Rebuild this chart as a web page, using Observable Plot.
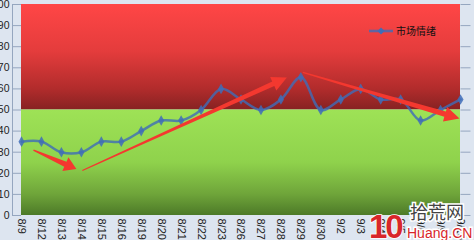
<!DOCTYPE html>
<html><head><meta charset="utf-8">
<script src="https://cdn.jsdelivr.net/npm/d3@7"></script>
<script src="https://cdn.jsdelivr.net/npm/@observablehq/plot@0.6"></script>
<style>
html,body{margin:0;padding:0;background:#dde5f0;}
#wrap{position:relative;width:474px;height:240px;overflow:hidden;background:#dde5f0;font-family:"Liberation Sans",Arial,sans-serif;}
#legend{position:absolute;left:368px;top:23px;display:flex;align-items:center;font:10px "Noto Sans CJK SC",sans-serif;color:#111;}
#wm{position:absolute;left:366px;top:198px;width:108px;height:42px;pointer-events:none;}
</style></head><body><div id="wrap"></div>
<script>
// ---- data ----
const dates = ["8/9","8/12","8/13","8/14","8/15","8/16","8/19","8/20","8/21","8/22","8/23","8/26","8/27","8/28","8/29","8/30","9/2","9/3","9/4","9/5","9/6","9/9","9/10"];
const sentiment = [35,35,30,30,35,35,40,45,45,50,60,55,50,55,65.5,50,55,60,55,55,45,50,55];
const yTicks = [0,10,20,30,40,50,60,70,80,90,100];
const zoneSplit = 50;
const arrowsX1 = [0.6, 3.05, 14.1];
const arrowsY1 = [31, 21.3, 67.8];
const arrowsX2 = [2.75, 13.3, 21.95];
const arrowsY2 = [22, 65.4, 46];
const seriesName = "市场情绪";

const rows = dates.map((d, i) => ({i, v: sentiment[i]}));
const xMax = dates.length - 1;

const base = {
  width: 474, height: 240,
  marginLeft: 21, marginRight: 14, marginTop: 4, marginBottom: 25,
  style: {background: "transparent", fontFamily: "Liberation Sans, Arial, sans-serif", fontSize: "11px", color: "#222", overflow: "visible"}
};
const xScale = {type: "linear", domain: [0, xMax]};
const yScale = {domain: [yTicks[0], yTicks[yTicks.length - 1]]};

// probe pass to get the library's scales
const probe = Plot.plot({...base, x: {...xScale, axis: null}, y: {...yScale, axis: null}, marks: [Plot.ruleY([zoneSplit])]});
const sx = probe.scale("x"), sy = probe.scale("y");

// arrow shapes (pixel styling)
const arrowStyle = [{w0: 1.5, w1: 5.5, hl: 12, hw: 7.5}, {w0: 1.2, w1: 5, hl: 15, hw: 7.5}, {w0: 1.2, w1: 5.5, hl: 15, hw: 7.5}];
function arrowPoly(k) {
  const s = arrowStyle[k];
  const T = [sx.apply(arrowsX1[k]), sy.apply(arrowsY1[k])];
  const P = [sx.apply(arrowsX2[k]), sy.apply(arrowsY2[k])];
  const dx = P[0] - T[0], dy = P[1] - T[1], L = Math.hypot(dx, dy);
  const u = [dx / L, dy / L], n = [-u[1], u[0]];
  const B = [P[0] - u[0] * s.hl, P[1] - u[1] * s.hl];
  const off = (p, m) => [p[0] + n[0] * m, p[1] + n[1] * m];
  const pts = [off(T, s.w0 / 2), off(B, s.w1 / 2), off(B, s.hw), P, off(B, -s.hw), off(B, -s.w1 / 2), off(T, -s.w0 / 2)];
  return pts.map(p => ({k, x: sx.invert(p[0]), y: sy.invert(p[1])}));
}
const arrowPts = arrowsX1.flatMap((_, k) => arrowPoly(k));

const ns = "http://www.w3.org/2000/svg";
function defs() {
  const g = document.createElementNS(ns, "defs");
  g.innerHTML = `
  <linearGradient id="gRed" x1="0" y1="0" x2="0" y2="1">
    <stop offset="0" stop-color="#ff4646"/>
    <stop offset="0.45" stop-color="#e43c3c"/>
    <stop offset="0.8" stop-color="#b22c2c"/>
    <stop offset="1" stop-color="#872222"/>
  </linearGradient>
  <linearGradient id="gGreen" x1="0" y1="0" x2="0" y2="1">
    <stop offset="0" stop-color="#9ee256"/>
    <stop offset="0.5" stop-color="#8fd24c"/>
    <stop offset="0.8" stop-color="#6fa53a"/>
    <stop offset="1" stop-color="#4d7a28"/>
  </linearGradient>`;
  return g;
}

const lineColor = "#3f6db8";
const chart = Plot.plot({
  ...base,
  x: {...xScale, ticks: d3.range(dates.length), tickFormat: i => dates[i], tickRotate: 90, tickSize: 0, tickPadding: 3, label: null},
  y: {...yScale, axis: null},
  marks: [
    defs,
    Plot.rect([zoneSplit], {x1: () => 0, x2: () => xMax, y1: d => d, y2: () => yScale.domain[1], fill: "url(#gRed)"}),
    Plot.rect([zoneSplit], {x1: () => 0, x2: () => xMax, y1: () => yScale.domain[0], y2: d => d, fill: "url(#gGreen)"}),
    Plot.axisY(yTicks, {tickSize: 9, tickPadding: 3, stroke: "#95a6bf", fill: "#222", fontSize: 10.5, label: null}),
    Plot.ruleX([0], {dx: -9, stroke: "#95a6bf"}),
    Plot.link(yTicks, {x1: () => xMax, x2: () => xMax + 0.5, y1: d => d, y2: d => d, stroke: "#95a6bf"}),
    Plot.line(rows, {x: "i", y: "v", curve: "catmull-rom", stroke: lineColor, strokeWidth: 2.5, strokeOpacity: 0.8}),
    Plot.dot(rows, {x: "i", y: "v", symbol: "diamond", r: 3.2, fill: lineColor, fillOpacity: 0.85, stroke: "none"}),
    Plot.line(arrowPts, {x: "x", y: "y", z: "k", fill: "#f4382f", stroke: "none", curve: "linear-closed"})
  ]
});

const wrap = document.getElementById("wrap");
wrap.appendChild(chart);

// legend inside plot
const lg = document.createElement("div");
lg.id = "legend";
lg.innerHTML = `<svg width="26" height="10" style="margin-right:2px"><line x1="1" y1="5" x2="25" y2="5" stroke="${lineColor}" stroke-width="2.6" stroke-opacity="0.8"/><path d="M13,1.5L16.5,5L13,8.5L9.5,5Z" fill="${lineColor}"/></svg><span>${seriesName}</span>`;
wrap.appendChild(lg);

// watermark
const wm = document.createElement("div");
wm.id = "wm";
wm.innerHTML = `<svg width="108" height="42">
<text x="3" y="40" font-family="Liberation Sans, Arial" font-weight="bold" font-size="33" fill="#d8262a" stroke="#fff" stroke-width="1.5" paint-order="stroke" letter-spacing="-2">10</text>
<text x="44" y="21" font-family="Noto Sans CJK SC" font-size="18" fill="#444" stroke="#fff" stroke-width="3" paint-order="stroke">拾荒网</text>
<text x="41" y="40" font-family="Liberation Sans, Arial" font-size="14" fill="#d8262a" stroke="#fff" stroke-width="3" paint-order="stroke">Huang.CN</text>
</svg>`;
wrap.appendChild(wm);
</script></body></html>
